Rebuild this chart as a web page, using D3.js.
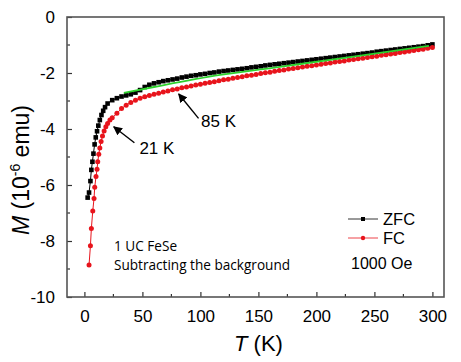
<!DOCTYPE html>
<html>
<head>
<meta charset="utf-8">
<script src="https://cdn.jsdelivr.net/npm/d3@7"></script>
<style>
  html, body { margin: 0; padding: 0; background: #fff; }
  svg { display: block; font-family: "Liberation Sans", Arial, sans-serif; }
</style>
</head>
<body>
<div id="chart"></div>
<script>
// ZFC data (T in K, M in 1e-6 emu)
const zfcT = [2.8, 4, 5.2, 6, 6.9, 7.8, 8.8, 9.8, 10.9, 12, 13.3, 14.7, 16.2, 17.8,
  20, 24, 28, 32, 36, 40, 44, 48, 52, 56, 60, 64, 68, 72, 76, 80, 84, 88, 92, 96,
  100, 104, 108, 112, 116, 120, 124, 128, 132, 136, 140, 144, 148, 152, 156, 160,
  164, 168, 172, 176, 180, 184, 188, 192, 196, 200, 204, 208, 212, 216, 220, 224,
  228, 232, 236, 240, 244, 248, 252, 256, 260, 264, 268, 272, 276, 280, 284, 288,
  292, 296, 300];
const zfcM = [-6.45, -6.27, -5.86, -5.46, -5.17, -4.88, -4.55, -4.30, -4.08, -3.88, -3.68, -3.50, -3.35, -3.22,
  -3.09, -2.97, -2.90, -2.84, -2.80, -2.76, -2.70, -2.61, -2.50, -2.42, -2.37, -2.33, -2.29, -2.26, -2.23, -2.20, -2.16, -2.13, -2.10, -2.08,
  -2.05, -2.03, -2.00, -1.98, -1.95, -1.93, -1.91, -1.89, -1.87, -1.85, -1.83, -1.80, -1.78, -1.76, -1.73, -1.71,
  -1.69, -1.67, -1.65, -1.63, -1.61, -1.59, -1.57, -1.55, -1.53, -1.51, -1.49, -1.47, -1.45, -1.43, -1.41, -1.39,
  -1.37, -1.35, -1.33, -1.31, -1.29, -1.27, -1.24, -1.22, -1.20, -1.18, -1.16, -1.14, -1.12, -1.10, -1.08, -1.06,
  -1.04, -1.01, -0.98];

// FC data
const fcT = [4, 5.2, 6, 7.2, 8.3, 8.9, 10, 10.9, 11.5, 12.4, 13.3, 14.4, 15.6, 17, 18.5, 20, 22,
  24, 28, 32, 36, 40, 44, 48, 52, 56, 60, 64, 68, 72, 76, 80, 84, 88, 92, 96,
  100, 104, 108, 112, 116, 120, 124, 128, 132, 136, 140, 144, 148, 152, 156, 160,
  164, 168, 172, 176, 180, 184, 188, 192, 196, 200, 204, 208, 212, 216, 220, 224,
  228, 232, 236, 240, 244, 248, 252, 256, 260, 264, 268, 272, 276, 280, 284, 288,
  292, 296, 300];
const fcM = [-8.86, -8.17, -7.55, -6.93, -6.48, -6.08, -5.70, -5.44, -5.17, -4.90, -4.68, -4.45, -4.25, -4.07, -3.92, -3.80, -3.68,
  -3.60, -3.44, -3.27, -3.15, -3.05, -2.97, -2.90, -2.85, -2.80, -2.76, -2.72, -2.68, -2.64, -2.60, -2.57, -2.53, -2.50, -2.46, -2.43,
  -2.40, -2.37, -2.34, -2.31, -2.28, -2.24, -2.22, -2.19, -2.16, -2.13, -2.10, -2.08, -2.05, -2.02, -1.99, -1.97,
  -1.94, -1.91, -1.89, -1.86, -1.84, -1.81, -1.79, -1.76, -1.74, -1.71, -1.69, -1.66, -1.64, -1.61, -1.59, -1.57,
  -1.54, -1.52, -1.49, -1.47, -1.45, -1.42, -1.40, -1.37, -1.35, -1.32, -1.30, -1.27, -1.25, -1.22, -1.20, -1.17,
  -1.15, -1.12, -1.09];

// green fit line
const fitT = [34, 60, 117, 170, 235, 297];
const fitM = [-2.71, -2.50, -2.07, -1.77, -1.40, -1.03];

const xTicks = [0, 50, 100, 150, 200, 250, 300];
const xMinor = [25, 75, 125, 175, 225, 275];
const yTicks = [0, -2, -4, -6, -8, -10];
const yMinor = [-1, -3, -5, -7, -9];

// annotations: [label, tipT, tipM, tailT, tailM, labelT, labelM]
const notes = [
  ["21 K", 25.3, -3.92, 43.1, -4.49, 47.4, -4.90],
  ["85 K", 81.3, -2.75, 98.4, -3.62, 100.6, -3.92]
];

const width = 461, height = 362;
const margin = {top: 17, right: 17, bottom: 65, left: 67};
const iw = width - margin.left - margin.right;
const ih = height - margin.top - margin.bottom;

const x = d3.scaleLinear().domain([-15, 310]).range([0, iw]);
const y = d3.scaleLinear().domain([-10, 0]).range([ih, 0]);

const svg = d3.select("#chart").append("svg")
  .attr("width", width)
  .attr("height", height);

const defs = svg.append("defs");
defs.append("marker")
  .attr("id", "arrow")
  .attr("viewBox", "0 0 10 10")
  .attr("refX", 9).attr("refY", 5)
  .attr("markerWidth", 9).attr("markerHeight", 9)
  .attr("markerUnits", "userSpaceOnUse")
  .attr("orient", "auto")
  .append("path")
  .attr("d", "M0,0 L10,5 L0,10 z")
  .attr("fill", "#000");

const g = svg.append("g")
  .attr("transform", "translate(" + margin.left + "," + margin.top + ")");

// bottom axis, ticks inward
const xAxis = g.append("g")
  .attr("transform", "translate(0," + ih + ")")
  .call(d3.axisBottom(x).tickValues(xTicks).tickSize(-5).tickPadding(13).tickFormat(d => String(d)));
xAxis.select(".domain").remove();
xAxis.selectAll("text").attr("font-size", 17).attr("fill", "#000");
xAxis.selectAll("line").attr("stroke", "#333").attr("stroke-width", 1.2);
g.append("g").selectAll("line").data(xMinor).join("line")
  .attr("x1", d => x(d)).attr("x2", d => x(d))
  .attr("y1", ih).attr("y2", ih - 3)
  .attr("stroke", "#333").attr("stroke-width", 1.2);

// left axis
const yAxis = g.append("g")
  .call(d3.axisLeft(y).tickValues(yTicks).tickSize(-5).tickPadding(12).tickFormat(d => String(d)));
yAxis.select(".domain").remove();
yAxis.selectAll("text").attr("font-size", 17).attr("fill", "#000");
yAxis.selectAll("line").attr("stroke", "#333").attr("stroke-width", 1.2);
g.append("g").selectAll("line").data(yMinor).join("line")
  .attr("x1", 0).attr("x2", 3)
  .attr("y1", d => y(d)).attr("y2", d => y(d))
  .attr("stroke", "#333").attr("stroke-width", 1.2);

// frame
g.append("rect")
  .attr("width", iw).attr("height", ih)
  .attr("fill", "none")
  .attr("stroke", "#555")
  .attr("stroke-width", 1.6);

const line = d3.line().x(d => x(d[0])).y(d => y(d[1]));
const zfc = zfcT.map((t, i) => [t, zfcM[i]]);
const fc = fcT.map((t, i) => [t, fcM[i]]);
const fit = fitT.map((t, i) => [t, fitM[i]]);

// ZFC
g.append("path").datum(zfc)
  .attr("d", line).attr("fill", "none")
  .attr("stroke", "#000").attr("stroke-width", 1);
g.append("g").selectAll("rect").data(zfc).join("rect")
  .attr("x", d => x(d[0]) - 2.3).attr("y", d => y(d[1]) - 2.3)
  .attr("width", 4.6).attr("height", 4.6)
  .attr("fill", "#000");

// FC
g.append("path").datum(fc)
  .attr("d", line).attr("fill", "none")
  .attr("stroke", "#e8141c").attr("stroke-width", 1);
g.append("g").selectAll("circle").data(fc).join("circle")
  .attr("cx", d => x(d[0])).attr("cy", d => y(d[1]))
  .attr("r", 2.5)
  .attr("fill", "#e8141c");

// fit
g.append("path").datum(fit)
  .attr("d", d3.line().x(d => x(d[0])).y(d => y(d[1])).curve(d3.curveMonotoneX))
  .attr("fill", "none")
  .attr("stroke", "#2ed12e").attr("stroke-width", 1.8);

// arrows + labels
notes.forEach(n => {
  g.append("line")
    .attr("x1", x(n[3])).attr("y1", y(n[4]))
    .attr("x2", x(n[1])).attr("y2", y(n[2]))
    .attr("stroke", "#000").attr("stroke-width", 1.4)
    .attr("marker-end", "url(#arrow)");
  g.append("text")
    .attr("x", x(n[5])).attr("y", y(n[6]))
    .attr("font-size", 17)
    .text(n[0]);
});

// inset text
const note = g.append("text")
  .attr("font-family", "'Open Sans', 'Noto Sans', sans-serif")
  .attr("font-size", 13.6);
note.append("tspan").attr("x", 47).attr("y", 234).text("1 UC FeSe");
note.append("tspan").attr("x", 47).attr("y", 253).text("Subtracting the background");

// legend
const legend = svg.append("g");
legend.append("line").attr("x1", 348).attr("x2", 378).attr("y1", 219).attr("y2", 219)
  .attr("stroke", "#000").attr("stroke-width", 0.8);
legend.append("rect").attr("x", 361).attr("y", 217).attr("width", 4).attr("height", 4).attr("fill", "#000");
legend.append("text").attr("x", 383).attr("y", 225).attr("font-size", 16.5).text("ZFC");
legend.append("line").attr("x1", 348).attr("x2", 378).attr("y1", 238).attr("y2", 238)
  .attr("stroke", "#e8141c").attr("stroke-width", 0.8);
legend.append("circle").attr("cx", 363).attr("cy", 238).attr("r", 2.2).attr("fill", "#e8141c");
legend.append("text").attr("x", 383).attr("y", 244).attr("font-size", 16.5).text("FC");
legend.append("text").attr("x", 351).attr("y", 269).attr("font-size", 16).text("1000 Oe");

// axis titles
const xt = svg.append("text")
  .attr("x", margin.left + iw / 2 + 3).attr("y", 351)
  .attr("text-anchor", "middle").attr("font-size", 22);
xt.append("tspan").attr("font-style", "italic").text("T");
xt.append("tspan").text(" (K)");

const yt = svg.append("text")
  .attr("transform", "translate(29," + 170 + ") rotate(-90)")
  .attr("text-anchor", "middle").attr("font-size", 23);
yt.append("tspan").attr("font-style", "italic").text("M");
yt.append("tspan").text(" (10");
yt.append("tspan").attr("font-size", 14).attr("dy", -9).text("-6");
yt.append("tspan").attr("dy", 9).text(" emu)");
</script>
</body>
</html>
